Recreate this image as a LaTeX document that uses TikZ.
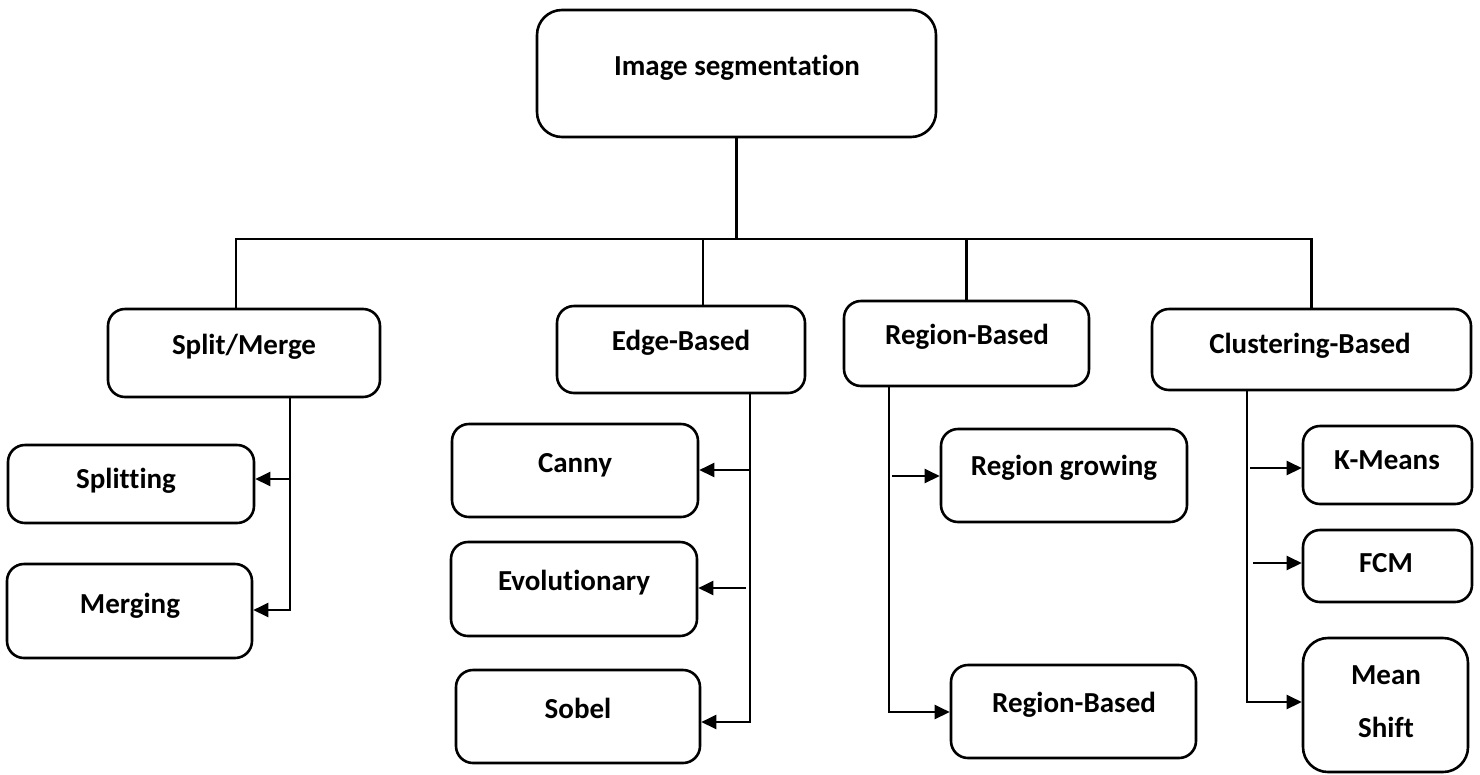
\documentclass[tikz,border=0pt]{standalone}
\usepackage{fontspec}
\setmainfont{Carlito}[Ligatures={NoCommon}]
\usetikzlibrary{arrows.meta}
\tikzset{
  box/.style={draw, line width=2.6pt, rounded corners=17pt, inner sep=0pt, fill=white},
  lbl/.style={anchor=base, font=\fontsize{29}{35}\selectfont\bfseries, inner sep=0pt},
  ln/.style={line width=2.4pt},
  arr/.style={line width=2.4pt, -{Triangle[length=15pt,width=14pt]}},
}
\begin{document}
\begin{tikzpicture}[x=1pt,y=-1pt]
\useasboundingbox (0,0) rectangle (1480,774);
% boxes
\node[box, rounded corners=25pt, minimum width=399pt, minimum height=127pt] (root) at (736.5,73.5) {};
\node[box, minimum width=272pt, minimum height=88pt] (sm) at (244,353) {};
\node[box, minimum width=246pt, minimum height=78pt] (spl) at (131,484) {};
\node[box, minimum width=245pt, minimum height=94pt] (mer) at (129.5,611) {};
\node[box, minimum width=248pt, minimum height=87pt] (eb) at (681,349.5) {};
\node[box, minimum width=246pt, minimum height=93pt] (can) at (575,470.5) {};
\node[box, minimum width=246pt, minimum height=94pt] (evo) at (574,589) {};
\node[box, minimum width=244pt, minimum height=93pt] (sob) at (578,716.5) {};
\node[box, minimum width=245pt, minimum height=85pt] (rb) at (966.5,343.5) {};
\node[box, minimum width=246pt, minimum height=93pt] (rg) at (1064,475.5) {};
\node[box, minimum width=245pt, minimum height=93pt] (rb2) at (1073.5,711.5) {};
\node[box, minimum width=319pt, minimum height=81pt] (cb) at (1311.5,349.5) {};
\node[box, minimum width=169pt, minimum height=78pt] (km) at (1387.5,465) {};
\node[box, minimum width=169pt, minimum height=72pt] (fcm) at (1387.5,566) {};
\node[box, rounded corners=25pt, minimum width=165pt, minimum height=134pt] (ms) at (1385.5,705) {};
% labels
\node[lbl] (t-root) at (737,75) {Image segmentation};
\node[lbl] (t-sm) at (244,354) {Split/Merge};
\node[lbl] (t-spl) at (126,488) {Splitting};
\node[lbl] (t-mer) at (130,613) {Merging};
\node[lbl] (t-eb) at (681,350) {Edge-Based};
\node[lbl] (t-can) at (575,472) {Canny};
\node[lbl] (t-evo) at (574,590) {Evolutionary};
\node[lbl] (t-sob) at (578,718) {Sobel};
\node[lbl] (t-rb) at (967,344) {Region-Based};
\node[lbl] (t-rg) at (1064,475) {Region growing};
\node[lbl] (t-rb2) at (1074,712) {Region-Based};
\node[lbl] (t-cb) at (1310,353) {Clustering-Based};
\node[lbl] (t-km) at (1387,469) {K-Means};
\node[lbl] (t-fcm) at (1386,572) {FCM};
\node[lbl] (t-ms1) at (1386,684) {Mean};
\node[lbl] (t-ms2) at (1386,737) {Shift};
% top-level connectors
\coordinate (busL) at (236,239);
\coordinate (jE) at (703,239);
\draw[ln] (root.south) -- (root.south |- busL);
\draw[ln] (busL |- sm.north) -- (busL) -- (busL -| cb.north) -- (cb.north);
\draw[ln] (jE) -- (jE |- eb.north);
\draw[ln] (rb.north |- busL) -- (rb.north);
% Split/Merge
\coordinate (smB) at (290,610);
\coordinate (s1) at (290,479);
\draw[arr] (smB |- sm.south) -- (smB) -- (smB -| mer.east);
\draw[arr] (s1) -- (s1 -| spl.east);
% Edge-Based
\coordinate (eB) at (750,722);
\coordinate (e1) at (750,470);
\coordinate (e2) at (746,588);
\draw[arr] (eB |- eb.south) -- (eB) -- (eB -| sob.east);
\draw[arr] (e1) -- (e1 -| can.east);
\draw[arr] (e2) -- (e2 -| evo.east);
% Region-Based
\coordinate (rB) at (889,712);
\coordinate (r1) at (892,476);
\draw[arr] (rB |- rb.south) -- (rB) -- (rB -| rb2.west);
\draw[arr] (r1) -- (r1 -| rg.west);
% Clustering-Based
\coordinate (cB) at (1247,702);
\coordinate (c1) at (1250,468);
\coordinate (c2) at (1253,563);
\draw[arr] (cB |- cb.south) -- (cB) -- (cB -| ms.west);
\draw[arr] (c1) -- (c1 -| km.west);
\draw[arr] (c2) -- (c2 -| fcm.west);
\end{tikzpicture}
\end{document}
